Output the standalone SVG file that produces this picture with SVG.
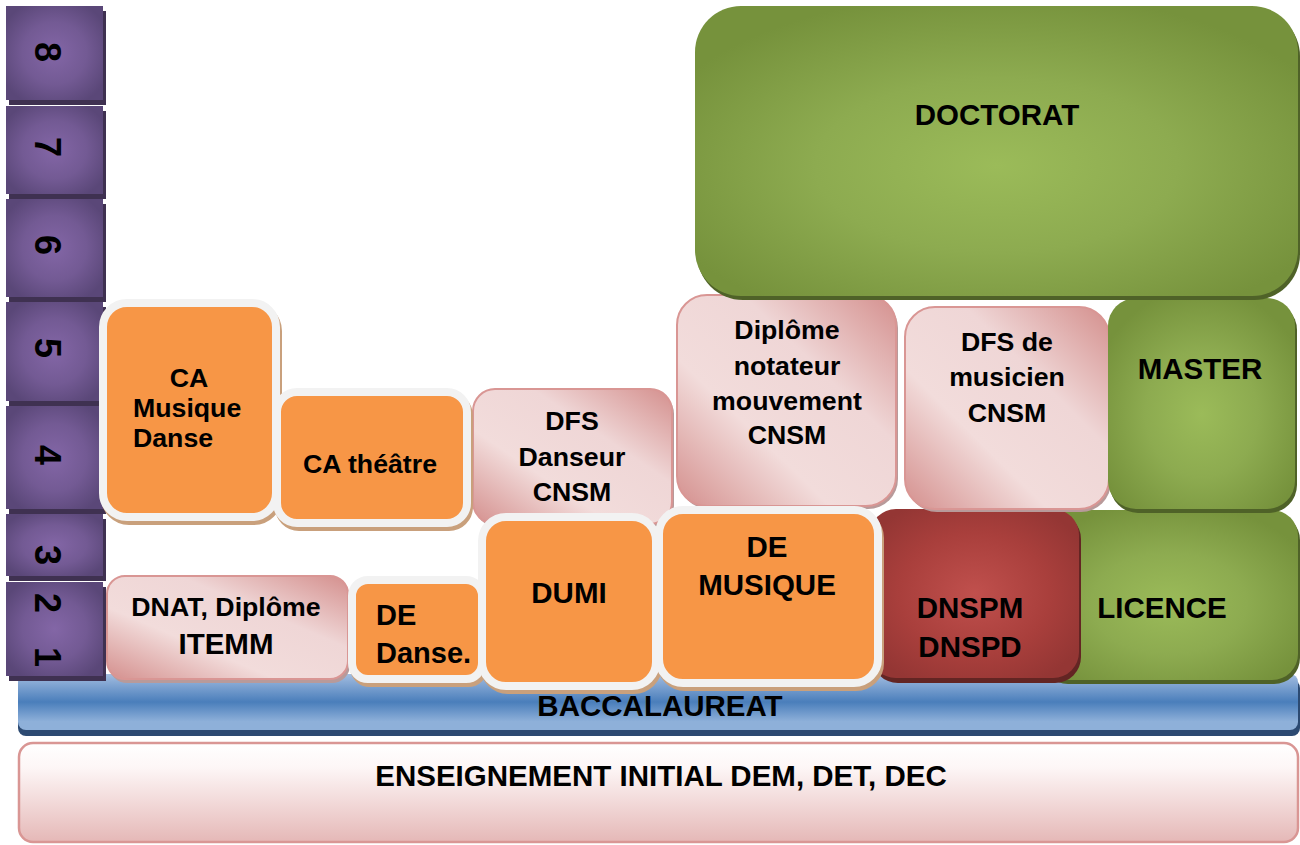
<svg xmlns="http://www.w3.org/2000/svg" width="1300" height="845" viewBox="0 0 1300 845">
<defs>
<radialGradient id="gPurple" cx="0.5" cy="0.5" r="0.6">
<stop offset="0" stop-color="#8366a6"/><stop offset="0.55" stop-color="#735a94"/><stop offset="1" stop-color="#5a4778"/>
</radialGradient>
<radialGradient id="gGreen" cx="0.5" cy="0.55" r="0.6">
<stop offset="0" stop-color="#9bbb59"/><stop offset="0.5" stop-color="#8dab50"/><stop offset="1" stop-color="#76923c"/>
</radialGradient>
<radialGradient id="gRed" cx="0.5" cy="0.5" r="0.6">
<stop offset="0" stop-color="#c0504d"/><stop offset="0.6" stop-color="#a93f3c"/><stop offset="1" stop-color="#943634"/>
</radialGradient>
<linearGradient id="gPink" x1="1" y1="0" x2="0" y2="1">
<stop offset="0" stop-color="#d48f8d"/><stop offset="0.35" stop-color="#efd6d6"/><stop offset="0.65" stop-color="#f2dcdb"/><stop offset="1" stop-color="#d48f8d"/>
</linearGradient>
<linearGradient id="gBlue" x1="0" y1="0" x2="0" y2="1">
<stop offset="0" stop-color="#a3bde0"/><stop offset="0.5" stop-color="#4a7ebb"/><stop offset="0.85" stop-color="#8eb0d9"/><stop offset="1" stop-color="#8eb0d9"/>
</linearGradient>
<linearGradient id="gBase" x1="0" y1="0" x2="0" y2="1">
<stop offset="0" stop-color="#ffffff"/><stop offset="0.25" stop-color="#fdf6f6"/><stop offset="1" stop-color="#e5b8b7"/>
</linearGradient>
<style>
text{font-family:"Liberation Sans",Arial,sans-serif;font-weight:bold;fill:#000}
.t26{font-size:26.7px;text-anchor:middle}
.t28{font-size:29.5px;text-anchor:middle}
.num{font-size:36px;text-anchor:middle}
.cell{fill:url(#gPurple)}
.cellsh{fill:#3f3151}
.or{fill:#f79646;stroke:#f2f2f2;stroke-width:8}
.orsh{fill:#c9a07c;stroke:#c9a07c;stroke-width:8}
.pk{fill:url(#gPink);stroke:#d99694;stroke-width:2}
.pksh{fill:#b89a9a}
.gr{fill:url(#gGreen)}
.grsh{fill:#4f6228}
.rd{fill:url(#gRed)}
.rdsh{fill:#632523}
</style>
</defs>

<g id="enseignement">
<rect x="19" y="743" width="1279" height="99" rx="14" fill="url(#gBase)" stroke="#d99694" stroke-width="2.5"/>
<text class="t28" x="661" y="786" font-size="30.5">ENSEIGNEMENT INITIAL DEM, DET, DEC</text>
</g>

<g id="baccalaureat">
<rect x="18" y="680" width="1282" height="56" rx="8" fill="#2c4a72"/>
<rect x="18" y="674" width="1280" height="56" rx="8" fill="url(#gBlue)"/>
<text class="t28" x="660" y="716" font-size="30.5">BACCALAUREAT</text>
</g>

<g id="niveaux">
<rect class="cellsh" x="9" y="11" width="97" height="94"/>
<rect class="cell" x="6" y="6" width="97" height="94"/>
<rect class="cellsh" x="9" y="111" width="97" height="88"/>
<rect class="cell" x="6" y="106" width="97" height="88"/>
<rect class="cellsh" x="9" y="204" width="97" height="98"/>
<rect class="cell" x="6" y="199" width="97" height="98"/>
<rect class="cellsh" x="9" y="307" width="97" height="99"/>
<rect class="cell" x="6" y="302" width="97" height="99"/>
<rect class="cellsh" x="9" y="411" width="97" height="103"/>
<rect class="cell" x="6" y="406" width="97" height="103"/>
<rect class="cellsh" x="9" y="519" width="97" height="62"/>
<rect class="cell" x="6" y="514" width="97" height="62"/>
<rect class="cellsh" x="9" y="587" width="97" height="94"/>
<rect class="cell" x="6" y="582" width="97" height="94"/>
<text class="num" transform="translate(35,52) rotate(90)">8</text>
<text class="num" transform="translate(35,147) rotate(90)">7</text>
<text class="num" transform="translate(35,245) rotate(90)">6</text>
<text class="num" transform="translate(35,348) rotate(90)">5</text>
<text class="num" transform="translate(35,455) rotate(90)">4</text>
<text class="num" transform="translate(35,555) rotate(90)">3</text>
<text class="num" transform="translate(35,603) rotate(90)">2</text>
<text class="num" transform="translate(35,657) rotate(90)">1</text>
</g>

<g id="licence">
<rect class="grsh" x="1042" y="514" width="258" height="170" rx="26"/>
<rect class="gr" x="1040" y="510" width="258" height="170" rx="26"/>
<text class="t28" x="1162" y="618" font-size="30.5">LICENCE</text>
</g>

<g id="dnspm">
<rect class="rdsh" x="872" y="513" width="209" height="170" rx="26"/>
<rect class="rd" x="870" y="509" width="209" height="169" rx="26"/>
<text class="t28" x="970" y="618" font-size="29">DNSPM</text>
<text class="t28" x="970" y="657" font-size="29">DNSPD</text>
</g>

<g id="dfs-musicien">
<rect class="pksh" x="907" y="310" width="204" height="202" rx="30"/>
<rect class="pk" x="905" y="307" width="204" height="202" rx="30"/>
<text class="t26" x="1007" y="351">DFS de</text>
<text class="t26" x="1007" y="386">musicien</text>
<text class="t26" x="1007" y="422">CNSM</text>
</g>

<g id="master">
<rect class="grsh" x="1110" y="302" width="187" height="211" rx="28"/>
<rect class="gr" x="1108" y="298" width="187" height="211" rx="28"/>
<text class="t28" x="1200" y="379">MASTER</text>
</g>

<g id="notateur">
<rect class="pksh" x="679" y="298" width="219" height="211" rx="30"/>
<rect class="pk" x="677" y="295" width="219" height="211" rx="30"/>
<text class="t26" x="787" y="339" font-size="26.3">Diplôme</text>
<text class="t26" x="787" y="375" font-size="26.3">notateur</text>
<text class="t26" x="787" y="410" font-size="26.3">mouvement</text>
<text class="t26" x="787" y="444" font-size="26.3">CNSM</text>
</g>

<g id="doctorat">
<rect class="grsh" x="697" y="10" width="603" height="290" rx="46"/>
<rect class="gr" x="695" y="6" width="603" height="290" rx="46"/>
<text class="t28" x="997" y="125">DOCTORAT</text>
</g>

<g id="dnat">
<rect class="pksh" x="109" y="580" width="241" height="103" rx="18"/>
<rect class="pk" x="107" y="576" width="241" height="103" rx="18"/>
<text class="t26" x="226" y="616" font-size="27">DNAT, Diplôme</text>
<text class="t28" x="226" y="654" font-size="30.5">ITEMM</text>
</g>

<g id="dfs-danseur">
<rect class="pksh" x="475" y="392" width="199" height="135" rx="22"/>
<rect class="pk" x="473" y="389" width="199" height="135" rx="22"/>
<text class="t26" x="572" y="430">DFS</text>
<text class="t26" x="572" y="466">Danseur</text>
<text class="t26" x="572" y="501">CNSM</text>
</g>

<g id="ca-musique">
<rect class="orsh" x="105" y="307" width="173" height="214" rx="24"/>
<rect class="or" x="103" y="303" width="173" height="214" rx="24"/>
<text class="t26" x="189" y="387">CA</text>
<text x="133" y="417" font-size="26.7">Musique</text>
<text x="133" y="447" font-size="26.7">Danse</text>
</g>

<g id="ca-theatre">
<rect class="orsh" x="279" y="396" width="190" height="131" rx="20"/>
<rect class="or" x="277" y="392" width="190" height="131" rx="20"/>
<text class="t26" x="370" y="473">CA théâtre</text>
</g>

<g id="de-danse">
<rect class="orsh" x="354" y="584" width="130" height="99" rx="16"/>
<rect class="or" x="352" y="580" width="130" height="99" rx="16"/>
<text x="376" y="625" font-size="29">DE</text>
<text x="376" y="663" font-size="29">Danse.</text>
</g>

<g id="dumi">
<rect class="orsh" x="484" y="521" width="174" height="169" rx="24"/>
<rect class="or" x="482" y="517" width="174" height="169" rx="24"/>
<text class="t28" x="569" y="603" font-size="29">DUMI</text>
</g>

<g id="de-musique">
<rect class="orsh" x="661" y="514" width="219" height="173" rx="24"/>
<rect class="or" x="659" y="510" width="219" height="173" rx="24"/>
<text class="t28" x="767" y="557" font-size="30">DE</text>
<text class="t28" x="767" y="595" font-size="30">MUSIQUE</text>
</g>

<g id="connectors"></g>
</svg>
